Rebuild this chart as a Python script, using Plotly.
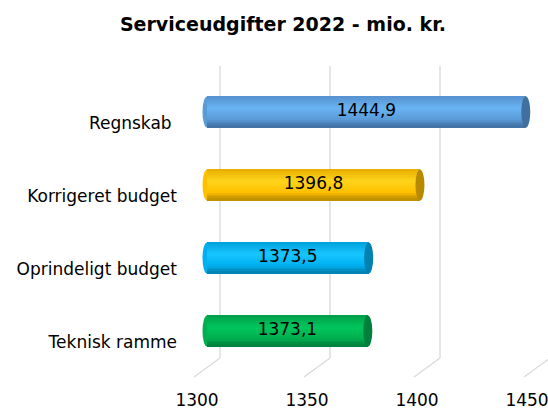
import plotly.graph_objects as go

# ---- data ----
categories = ["Regnskab\u00a0", "Korrigeret budget", "Oprindeligt budget", "Teknisk ramme"]
values = [1444.9, 1396.8, 1373.5, 1373.1]
value_labels = ["1444,9", "1396,8", "1373,5", "1373,1"]
tick_values = [1300, 1350, 1400, 1450]
tick_labels = ["1300", "1350", "1400", "1450"]
axis_min = 1300
title_text = "Serviceudgifter 2022 - mio. kr."

# ---- style ----
# gradient stops (top, highlight, mid, bottom) and end-cap colour per bar
palettes = [
    ("#5590cd", "#6ab4f4", "#5b9bd8", "#3f6fa2", "#41709e"),
    ("#e6ad00", "#ffd41c", "#ffc000", "#b98b00", "#b88a00"),
    ("#009fda", "#18c6ff", "#00b0f0", "#0080b0", "#0081b0"),
    ("#009c46", "#00c65c", "#00b050", "#007f3e", "#007f3d"),
]
FONT = "DejaVu Sans, Verdana, sans-serif"
BAR_W = 0.425
N_STRIPES = 16
PX_PER_UNIT = 2.2
L, R, T, B = 182, 0, 66, 52
W, H = 548, 410
FRONT_X0 = 207  # pixel position of axis_min at bar depth
DEPTH_DX, DEPTH_DY = 13, 19


def hex2rgb(h):
    h = h.lstrip("#")
    return tuple(int(h[i:i + 2], 16) for i in (0, 2, 4))


def interp(stops, t):
    pos = [0.0, 0.38, 0.72, 1.0]
    for k in range(len(pos) - 1):
        if pos[k] <= t <= pos[k + 1]:
            f = (t - pos[k]) / (pos[k + 1] - pos[k])
            a, b = hex2rgb(stops[k]), hex2rgb(stops[k + 1])
            c = [round(a[j] + (b[j] - a[j]) * f) for j in range(3)]
            return "rgb(%d,%d,%d)" % tuple(c)
    return stops[-1]


order = list(reversed(categories))  # bottom-to-top
n = len(categories)
x_lo = axis_min - (FRONT_X0 - L) / PX_PER_UNIT
x_hi = axis_min + (W - R - FRONT_X0) / PX_PER_UNIT
plot_h = H - T - B
units = plot_h / 73.0
y_lo = -(358 - 331) / 73.0

fig = go.Figure()

lengths = [v - axis_min for v in values]
for i in range(N_STRIPES):
    t = (i + 0.5) / N_STRIPES
    cols = [interp(p[:4], t) for p in palettes]
    fig.add_trace(go.Bar(
        y=categories, x=lengths, base=axis_min, orientation="h",
        width=BAR_W / N_STRIPES * 1.08,
        offset=BAR_W / 2 - (i + 1) * BAR_W / N_STRIPES,
        marker=dict(color=cols, line=dict(width=0)),
        hoverinfo="skip", showlegend=False,
    ))

# value labels
fig.add_trace(go.Scatter(
    y=categories, x=[(axis_min + v) / 2 for v in values],
    mode="text", text=value_labels,
    textfont=dict(family=FONT, size=17, color="#000000"),
    hoverinfo="skip", showlegend=False,
))

shapes = []
# back-wall gridlines and floor lines
for tv in tick_values:
    shapes.append(dict(type="line", xref="x", yref="paper", xsizemode="pixel", xanchor=tv,
                       x0=DEPTH_DX, x1=DEPTH_DX, y0=0, y1=1, layer="below",
                       line=dict(color="#d9d9d9", width=1.3)))
    shapes.append(dict(type="line", xref="x", yref="paper", xsizemode="pixel", xanchor=tv,
                       ysizemode="pixel", yanchor=0,
                       x0=DEPTH_DX, x1=-DEPTH_DX, y0=0, y1=-DEPTH_DY, layer="below",
                       line=dict(color="#d9d9d9", width=1.3)))
# cylinder caps
for idx, (cat, v) in enumerate(zip(categories, values)):
    yc = order.index(cat)
    shapes.append(dict(type="circle", xref="x", yref="y", xsizemode="pixel", xanchor=axis_min,
                       x0=-4.5, x1=4.5, y0=yc - BAR_W / 2, y1=yc + BAR_W / 2, layer="below",
                       fillcolor=palettes[idx][2], line=dict(width=0)))
    shapes.append(dict(type="circle", xref="x", yref="y", xsizemode="pixel", xanchor=v,
                       x0=-4.5, x1=4.5, y0=yc - BAR_W / 2, y1=yc + BAR_W / 2, layer="above",
                       fillcolor=palettes[idx][4], line=dict(width=0)))

fig.update_layout(
    width=W, height=H, barmode="overlay", bargap=0,
    margin=dict(l=L, r=R, t=T, b=B, pad=0),
    paper_bgcolor="white", plot_bgcolor="white",
    title=dict(text="<b>" + title_text + "</b>", x=283 / W, xanchor="center",
               y=1 - 24 / H, yanchor="middle",
               font=dict(family=FONT, size=19, color="#000000")),
    xaxis=dict(range=[x_lo, x_hi], tickvals=tick_values, ticktext=tick_labels,
               showgrid=False, zeroline=False, showline=False, ticks="",
               ticklabelshift=-10, ticklabelstandoff=30, ticklabeloverflow="allow",
               tickfont=dict(family=FONT, size=17, color="#000000")),
    yaxis=dict(type="category", categoryorder="array", categoryarray=order,
               range=[y_lo, y_lo + units], showgrid=False, zeroline=False,
               showline=False, ticks="", ticklabelshift=11, ticklabelstandoff=4,
               tickfont=dict(family=FONT, size=17, color="#000000")),
    shapes=shapes,
    showlegend=False,
)

fig.write_html("out.html", config={"displayModeBar": False},
               post_script="document.body.style.margin='0';document.body.style.overflow='hidden';")
